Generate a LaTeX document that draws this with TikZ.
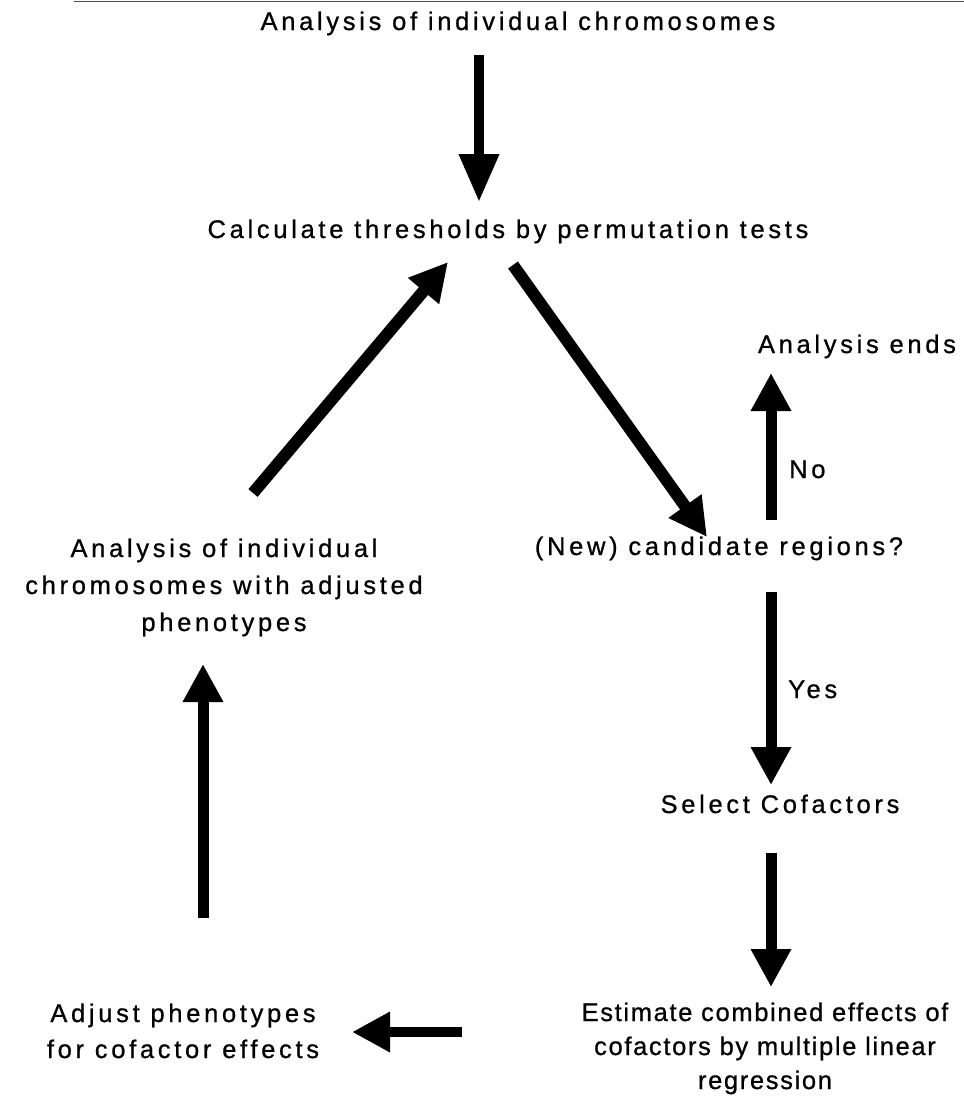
\documentclass[tikz,border=0pt]{standalone}
\usepackage{fontspec}
\newfontfamily\lblfont{Liberation Sans}[LetterSpace=14.5, FakeBold=0.8]
\newfontfamily\lbltight{Liberation Sans}[LetterSpace=6.5, FakeBold=0.8]
\usetikzlibrary{arrows.meta}
\begin{document}
\begin{tikzpicture}[x=1pt,y=-1pt,
  lbl/.style={font=\lblfont\fontsize{25.5}{37}\selectfont, inner sep=0pt, anchor=base, align=center},
  lbltight/.style={font=\lbltight\fontsize{25.5}{34}\selectfont, inner sep=0pt, anchor=base, align=center},
  flow/.style={line width=11pt, -{Triangle[length=38pt,width=38pt]}},
  rule/.style={line width=1pt, black!70}]
\useasboundingbox (0,0) rectangle (964,1096);
\draw[rule] (74,1) -- (964,1);
% nodes (anchor base = baseline of last line)
\node[lbl] (start) at (518,30) {Analysis of individual chromosomes};
\node[lbl] (calc) at (508,238) {Calculate thresholds by permutation tests};
\node[lbl] (ends) at (857,353) {Analysis ends};
\node[lbl, anchor=base west] (no) at (789,478) {No};
\node[lbl] (cand) at (719,555) {(New) candidate regions?};
\node[lbl] (reanal) at (224,631) {Analysis of individual\\chromosomes with adjusted\\phenotypes};
\node[lbl, anchor=base west] (yes) at (788,698) {Yes};
\node[lbl] (select) at (780,813) {Select Cofactors};
\node[lbl, font=\lblfont\fontsize{25.5}{36}\selectfont] (adjust) at (183,1058) {Adjust phenotypes\\for cofactor effects};
\node[lbltight] (estim) at (765,1089) {Estimate combined effects of\\cofactors by multiple linear\\regression};
% connector end points
\coordinate (a1s) at (479,55);   \coordinate (a1e) at (479,202);
\coordinate (a2s) at (513,265);  \coordinate (a2e) at (707,537);
\coordinate (a3s) at (253,493);  \coordinate (a3e) at (448,262);
\coordinate (a4s) at (771,520);  \coordinate (a4e) at (771,373);
\coordinate (a5s) at (771,592);  \coordinate (a5e) at (771,785);
\coordinate (a6s) at (771,853);  \coordinate (a6e) at (771,987);
\coordinate (a7s) at (462,1032); \coordinate (a7e) at (352,1032);
\coordinate (a8s) at (203,918);  \coordinate (a8e) at (203,664);
% connectors
\draw[flow, line width=10pt, -{Triangle[length=48pt,width=38pt]}] (a1s) -- (a1e);
\draw[flow, line width=12pt] (a2s) -- (a2e);
\draw[flow, line width=12pt] (a3s) -- (a3e);
\draw[flow] (a4s) -- (a4e);
\draw[flow] (a5s) -- (a5e);
\draw[flow] (a6s) -- (a6e);
\draw[flow, line width=10pt] (a7s) -- (a7e);
\draw[flow] (a8s) -- (a8e);
\end{tikzpicture}
\end{document}
